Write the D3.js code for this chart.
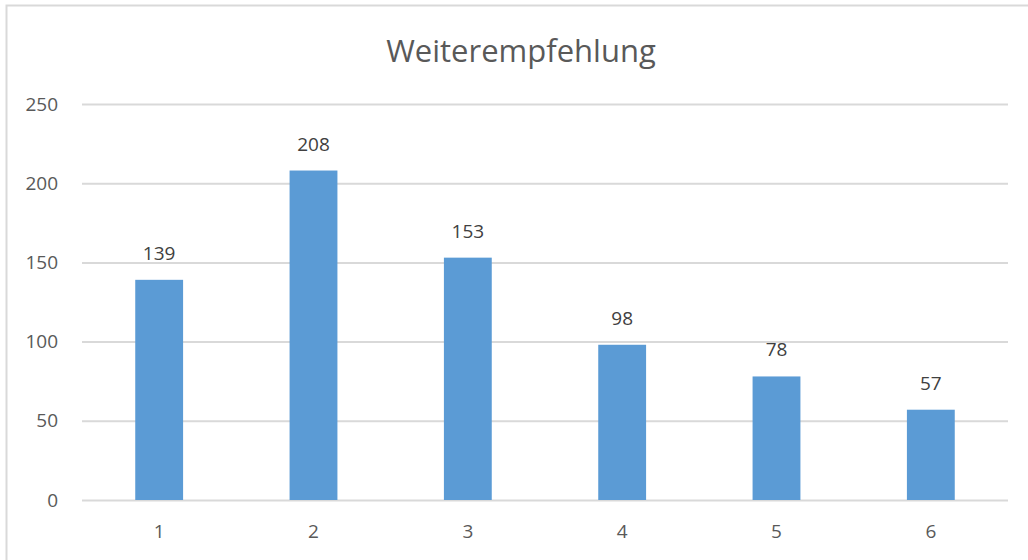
<!DOCTYPE html>
<html>
<head>
<meta charset="utf-8">
<script src="https://cdn.jsdelivr.net/npm/d3@7"></script>
<style>
  body { margin: 0; background: #fff; }
  text { font-family: "Open Sans", "Noto Sans", sans-serif; }
</style>
</head>
<body>
<div id="chart"></div>
<script>
const categories = ["1", "2", "3", "4", "5", "6"];
const values = [139, 208, 153, 98, 78, 57];
const yTicks = [0, 50, 100, 150, 200, 250];
const chartTitle = "Weiterempfehlung";

const svg = d3.select("#chart").append("svg")
  .attr("width", 1028)
  .attr("height", 560);

// chart frame (only top and left edges are visible in the crop)
svg.append("path")
  .attr("d", "M6.5,560 V5.5 H1028")
  .attr("fill", "none")
  .attr("stroke", "#d9d9d9")
  .attr("stroke-width", 2);

const margin = { top: 104, right: 20, bottom: 60, left: 82 };
const width = 1008 - margin.left;
const height = 500 - margin.top;
const g = svg.append("g").attr("transform", `translate(${margin.left},${margin.top})`);

const x = d3.scaleBand().domain(categories).range([0, width]).paddingInner(0.69).paddingOuter(0.345);
const y = d3.scaleLinear().domain([0, 250]).range([height, 0]);

// gridlines
g.append("g")
  .selectAll("line")
  .data(yTicks)
  .enter().append("line")
  .attr("x1", 0)
  .attr("x2", width)
  .attr("y1", d => y(d) + 0.5)
  .attr("y2", d => y(d) + 0.5)
  .attr("stroke", "#d9d9d9")
  .attr("stroke-width", 2);

// y axis labels
const yAxis = g.append("g")
  .call(d3.axisLeft(y).tickValues(yTicks).tickSize(0).tickPadding(24));
yAxis.select(".domain").remove();
yAxis.selectAll("text")
  .attr("fill", "#595959")
  .style("font-size", "19px");

// x axis labels
const xAxis = g.append("g")
  .attr("transform", `translate(0,${height})`)
  .call(d3.axisBottom(x).tickSize(0).tickPadding(25));
xAxis.select(".domain").remove();
xAxis.selectAll("text")
  .attr("fill", "#595959")
  .style("font-size", "19px");

// bars
g.selectAll(".bar")
  .data(values)
  .enter().append("rect")
  .attr("class", "bar")
  .attr("x", (d, i) => x(categories[i]))
  .attr("y", d => y(d))
  .attr("width", x.bandwidth())
  .attr("height", d => height - y(d))
  .attr("fill", "#5b9bd5");

// data labels
g.selectAll(".label")
  .data(values)
  .enter().append("text")
  .attr("class", "label")
  .attr("x", (d, i) => x(categories[i]) + x.bandwidth() / 2)
  .attr("y", d => y(d) - 20)
  .attr("text-anchor", "middle")
  .attr("fill", "#404040")
  .style("font-size", "19px")
  .text(d => d);

// title
svg.append("text")
  .attr("x", 521)
  .attr("y", 62)
  .attr("text-anchor", "middle")
  .attr("fill", "#595959")
  .style("font-size", "31px")
  .text(chartTitle);
</script>
</body>
</html>
